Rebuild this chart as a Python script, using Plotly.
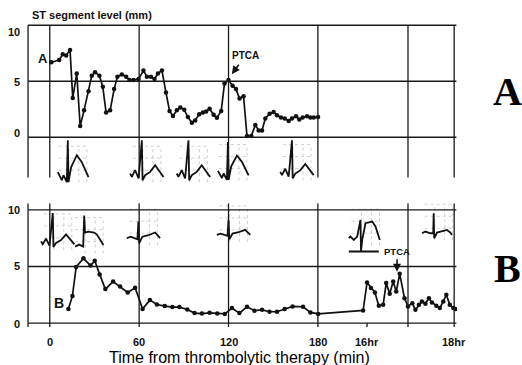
import plotly.graph_objects as go

# ---------------- data ----------------
# Panel A: ST level (mm) vs minutes after thrombolytic therapy
A_MIN = [1.0, 6.3, 8.7, 11.0, 13.6, 15.4, 18.1, 20.4, 23.0, 26.0, 28.2, 30.4, 33.3, 35.6, 37.8,
         40.5, 43.2, 45.4, 48.4, 51.3, 53.5, 56.2, 59.6, 62.9, 65.2, 67.9, 70.3, 72.6, 75.3,
         78.0, 80.4, 82.7, 85.3, 87.6, 90.3, 92.7, 95.4, 97.6, 100.3, 102.8, 105.0, 107.3, 110.0,
         112.2, 115.1, 117.3, 120.0, 122.7, 125.0, 127.4, 130.1, 132.4, 135.3, 138.0, 140.2,
         142.5, 144.7, 147.6, 150.3, 152.5, 155.2, 157.7, 160.4, 162.6, 165.3, 167.5, 169.8,
         172.7, 174.9, 177.2, 180.1]
A_ST = [6.7, 6.9, 7.4, 7.3, 7.8, 3.5, 5.7, 1.0, 2.4, 4.1, 5.5, 5.8, 5.5, 4.5, 2.2,
        2.4, 4.3, 5.4, 5.6, 5.4, 5.1, 5.1, 5.2, 5.95, 5.4, 5.4, 5.2, 5.7, 5.95,
        4.0, 2.35, 1.9, 2.4, 2.65, 2.45, 1.8, 1.3, 1.5, 2.05, 2.2, 2.3, 2.55, 2.0,
        1.75, 2.35, 4.8, 5.1, 4.6, 4.3, 3.45, 3.66, 0.1, 0.1, 1.1, 0.6,
        0.6, 1.67, 2.1, 2.26, 1.96, 1.76, 1.67, 1.46, 1.67, 1.88, 1.58, 1.76,
        1.88, 1.76, 1.76, 1.8]

# Panel B: first 3 hours (minutes) ...
B_MIN = [12.5, 15.2, 17.7, 22.6, 27.3, 30.2, 33.5, 37.3, 42.5, 47.2, 52.3, 57.3, 62.3, 67.2,
         71.9, 77.2, 82.3, 87.0, 92.3, 97.2, 102.1, 107.3, 112.4, 117.5, 122.3, 127.3, 132.4,
         137.4, 142.5, 147.5, 152.5, 157.7, 163.0, 170.0, 175.0, 180.2]
B_ST = [1.24, 2.4, 4.95, 5.72, 5.08, 5.5, 4.3, 3.0, 3.67, 3.23, 2.7, 3.12, 1.25, 2.03,
        1.64, 1.5, 1.41, 1.41, 1.2, 0.88, 0.84, 0.9, 0.84, 0.81, 1.32, 0.88, 1.44,
        1.09, 1.17, 1.0, 1.0, 1.24, 1.47, 1.44, 0.94, 0.81]
# ... and 16-18 hours (hours)
B_LATE_HR = [15.91, 16.0, 16.09, 16.18, 16.27, 16.37, 16.44, 16.52, 16.60, 16.67, 16.75, 16.86,
             16.94, 17.04, 17.11, 17.19, 17.26, 17.34, 17.42, 17.49, 17.59, 17.67, 17.75,
             17.82, 17.90, 17.98, 18.03]
B_LATE_ST = [1.12, 3.58, 3.09, 2.7, 1.53, 1.62, 3.53, 2.59, 3.67, 2.79, 4.35, 2.2,
             1.47, 1.76, 1.17, 1.62, 1.91, 1.7, 2.2, 1.82, 1.53, 1.32, 1.91,
             2.5, 1.62, 1.32, 1.24]

X_TICK_MIN = [0, 60, 120, 180]
X_TICK_MIN_TEXT = ["0", "60", "120", "180"]
X_TICK_HR = [16, 18]
X_TICK_HR_TEXT = ["16hr", "18hr"]
Y_TICKS = [10, 5, 0]
Y_TICK_TEXT = ["10", "5", "0"]

PTCA_A_MIN = 120.0
PTCA_B_HR = 16.75

# ---------------- layout geometry ----------------
W, H = 522, 365
ML, MR, MT, MB = 27, 65, 23, 38
X_RANGE = [-15.3, 273.4]
YA_RANGE = [-4.3, 10.2]
YB_RANGE = [-0.35, 10.6]
PLOT_W = W - ML - MR
PLOT_H = H - MT - MB
PX_X = PLOT_W / (X_RANGE[1] - X_RANGE[0])
PX_YA = 11.2
PX_YB = 11.31
A_DOM = [1 - (YA_RANGE[1] - YA_RANGE[0]) * PX_YA / PLOT_H, 1]
B_DOM = [0, (YB_RANGE[1] - YB_RANGE[0]) * PX_YB / PLOT_H]

HR16_POS = 213.0
HR_SPAN = 29.25


def hr_pos(h):
    return HR16_POS + (h - 16) * HR_SPAN


VLINES = [0, 60, 120, 180, hr_pos(16.94), hr_pos(18)]
A_VLINE_BOTTOM = -3.6
FONT = "Liberation Sans, Arial, sans-serif"
SERIF = "Liberation Serif, Times New Roman, serif"
INK = "#111111"

# ECG complex outlines (pixel offsets from spike / baseline)
ECG_TEMPLATES = {
    "peaked": ([-10, -6, -4.3, -1, 0, 0.7, 3.3, 9, 14, 20.7],
               [3, -5, 0, -7, 35, -7, 8, 20, 13, -2]),
    "moderate": ([-11.7, -10, -6.7, -3.3, 0, 0.7, 3.3, 8.3, 13.3, 18.3, 21.7],
                 [1.7, -1.7, 5, -3.3, 35, -5, 0, 3.3, 10, 3.3, -1.7]),
    "plateau": ([-9, -5, -1, 0, 0.8, 4, 10, 12.7, 19.3],
                [0, 2, 0, 31, 14, 15, 14, 12, 1.5]),
    "normal": ([-11.7, -8, -4, -1, 0, 0.8, 4, 10, 16.7, 21.7],
               [0, 1.5, 0, -1, 16.7, -5, 1.5, 3, 5.7, 0]),
    "peaked_base": ([-11.7, -10, -6.7, -3.3, 0, 0.5, 1.7, 5, 11.7, 15, 19.3, None, -11.7, 18.3],
                    [0, 1.7, -1.7, 1.7, 18.3, -13.3, -1.7, 15, 16.7, 11.7, -1.7, None, -13.3, -13.3]),
    "inverted": ([-11.7, -8.3, -3.3, -0.5, 0, 0.5, 3.3, 8.3, 13.3, 16.7, 18.3],
                 [0, 1.7, 0, 0, 20, -5, 0.7, 1.7, 3.3, 0.7, -1.7]),
}
A_INSETS = [(12.1, -3.39, "peaked", 1.0), (61.8, -3.39, "moderate", 1.0),
            (93.1, -3.39, "moderate", 1.0), (119.6, -3.24, "peaked", 0.9),
            (162.6, -3.24, "moderate", 0.95)]
B_INSETS = [(2.0, 7.09, "moderate", 0.85), (23.1, 6.76, "plateau", 1.0),
            (59.5, 7.5, "normal", 1.0), (120.0, 7.79, "normal", 0.9),
            (hr_pos(15.85), 7.5, "peaked_base", 1.0), (hr_pos(17.53), 7.94, "inverted", 1.0)]
GRID_DX = [-9, 1, 11, 19]
GRID_DY = [-7, 5, 17, 29]

fig = go.Figure()


def add_ecgs(insets, px_y, xa, ya):
    ex, ey, gx, gy = [], [], [], []
    for x0, y0, kind, s in insets:
        dxs, dys = ECG_TEMPLATES[kind]
        for dx, dy in zip(dxs, dys):
            if dx is None:
                ex.append(None); ey.append(None)
            else:
                ex.append(x0 + dx / PX_X); ey.append(y0 + dy * s / px_y)
        ex.append(None); ey.append(None)
        for d in GRID_DX[1:]:
            gx += [x0 + d / PX_X, x0 + d / PX_X, None]
            gy += [y0 + GRID_DY[0] / px_y, y0 + GRID_DY[-1] / px_y, None]
        for d in GRID_DY[1:]:
            gx += [x0 + GRID_DX[0] / PX_X, x0 + GRID_DX[-1] / PX_X, None]
            gy += [y0 + d / px_y, y0 + d / px_y, None]
    fig.add_trace(go.Scatter(x=gx, y=gy, mode="lines", xaxis=xa, yaxis=ya, hoverinfo="skip",
                             line=dict(color="#c4c4c4", width=0.8, dash="dot"), showlegend=False))
    fig.add_trace(go.Scatter(x=ex, y=ey, mode="lines", xaxis=xa, yaxis=ya, hoverinfo="skip",
                             line=dict(color=INK, width=1.8), showlegend=False))


add_ecgs(A_INSETS, PX_YA, "x", "y")
add_ecgs(B_INSETS, PX_YB, "x2", "y2")

fig.add_trace(go.Scatter(x=A_MIN, y=A_ST, mode="lines+markers", xaxis="x", yaxis="y",
                         line=dict(color=INK, width=1.7), marker=dict(size=4.5, color=INK),
                         showlegend=False))
b_x = B_MIN + [hr_pos(h) for h in B_LATE_HR]
b_y = B_ST + B_LATE_ST
fig.add_trace(go.Scatter(x=b_x, y=b_y, mode="lines+markers", xaxis="x2", yaxis="y2",
                         line=dict(color=INK, width=1.7), marker=dict(size=4.5, color=INK),
                         showlegend=False))

shapes = []
line_style = dict(color="#1a1a1a", width=1.3)
for xr, yr, ybot, ytop in [("x", "y", A_VLINE_BOTTOM, 10), ("x2", "y2", YB_RANGE[0], YB_RANGE[1])]:
    for yv in Y_TICKS:
        shapes.append(dict(type="line", xref=xr, yref=yr, x0=-14.6, x1=273.0, y0=yv, y1=yv,
                           line=line_style))
    for xv in [-14.6] + VLINES:
        shapes.append(dict(type="line", xref=xr, yref=yr, x0=xv, x1=xv, y0=ybot, y1=ytop,
                           line=line_style))
shapes.append(dict(type="line", xref="x2", yref="y2", x0=hr_pos(16), x1=hr_pos(16),
                   y0=0, y1=YB_RANGE[0], line=line_style))

ann = []
tick_font = dict(family=FONT, size=11, color=INK)
# y tick labels
for ya, shifts in [("y", [-7, -1, 4]), ("y2", [0, 0, -1])]:
    for v, t, s in zip(Y_TICKS, Y_TICK_TEXT, shifts):
        ann.append(dict(xref="paper", yref=ya, x=0, y=v, text="<b>%s</b>" % t, showarrow=False,
                        xanchor="right", yanchor="middle", xshift=-5, yshift=s, font=tick_font))
# x tick labels
for v, t in list(zip(X_TICK_MIN, X_TICK_MIN_TEXT)) + [(hr_pos(h), t) for h, t in zip(X_TICK_HR, X_TICK_HR_TEXT)]:
    ann.append(dict(xref="x2", yref="y2 domain", x=v, y=0, text="<b>%s</b>" % t, showarrow=False,
                    xanchor="center", yanchor="middle", yshift=-15, font=tick_font))
# titles
ann.append(dict(xref="paper", yref="paper", x=(239 - ML) / PLOT_W, y=-30 / PLOT_H,
                text="Time from thrombolytic therapy (min)", showarrow=False,
                xanchor="center", yanchor="middle", font=dict(family=FONT, size=16, color="#000")))
ann.append(dict(xref="paper", yref="paper", x=(30 - ML) / PLOT_W, y=1 + (MT - 14.5) / PLOT_H,
                text="<b>ST segment level (mm)</b>", showarrow=False,
                xanchor="left", yanchor="middle", font=dict(family=FONT, size=11, color=INK)))
# big panel letters
ann.append(dict(xref="paper", yref="paper", x=(507 - ML) / PLOT_W, y=(H - MB - 91) / PLOT_H,
                text="<b>A</b>", showarrow=False, xanchor="center", yanchor="middle",
                font=dict(family=SERIF, size=40, color="#000")))
ann.append(dict(xref="paper", yref="paper", x=(507 - ML) / PLOT_W, y=(H - MB - 268) / PLOT_H,
                text="<b>B</b>", showarrow=False, xanchor="center", yanchor="middle",
                font=dict(family=SERIF, size=40, color="#000")))
# in-plot panel letters
ann.append(dict(xref="x", yref="y", x=-4.5, y=7.05, text="<b>A</b>", showarrow=False,
                font=dict(family=FONT, size=13, color=INK)))
ann.append(dict(xref="x2", yref="y2", x=6.3, y=1.8, text="<b>B</b>", showarrow=False,
                font=dict(family=FONT, size=14, color=INK)))
# PTCA markers
ann.append(dict(xref="x", yref="y", x=PTCA_A_MIN + 11.3, y=7.3, text="<b>PTCA</b>", showarrow=False,
                font=dict(family=FONT, size=10, color=INK)))
ann.append(dict(xref="x", yref="y", x=PTCA_A_MIN + 2.2, y=5.63, text="", showarrow=True,
                ax=8, ay=-11, arrowhead=2, arrowsize=1, arrowwidth=1.6, arrowcolor=INK, standoff=0))
ann.append(dict(xref="x2", yref="y2", x=hr_pos(PTCA_B_HR) - 1.9, y=6.35, text="<b>PTCA</b>",
                showarrow=False, font=dict(family=FONT, size=9.5, color=INK)))
ann.append(dict(xref="x2", yref="y2", x=hr_pos(PTCA_B_HR) - 1.8, y=4.54, text="", showarrow=True,
                ax=0, ay=-14, arrowhead=2, arrowsize=1, arrowwidth=1.6, arrowcolor=INK, standoff=0))

ax_common = dict(visible=False, range=X_RANGE, showgrid=False, zeroline=False)
fig.update_layout(
    width=W, height=H, margin=dict(l=ML, r=MR, t=MT, b=MB),
    paper_bgcolor="white", plot_bgcolor="white",
    xaxis=dict(**ax_common, anchor="y"),
    yaxis=dict(visible=False, range=YA_RANGE, domain=A_DOM, anchor="x"),
    xaxis2=dict(**ax_common, anchor="y2"),
    yaxis2=dict(visible=False, range=YB_RANGE, domain=B_DOM, anchor="x2"),
    shapes=shapes, annotations=ann, showlegend=False,
)
fig.write_html("out.html")
